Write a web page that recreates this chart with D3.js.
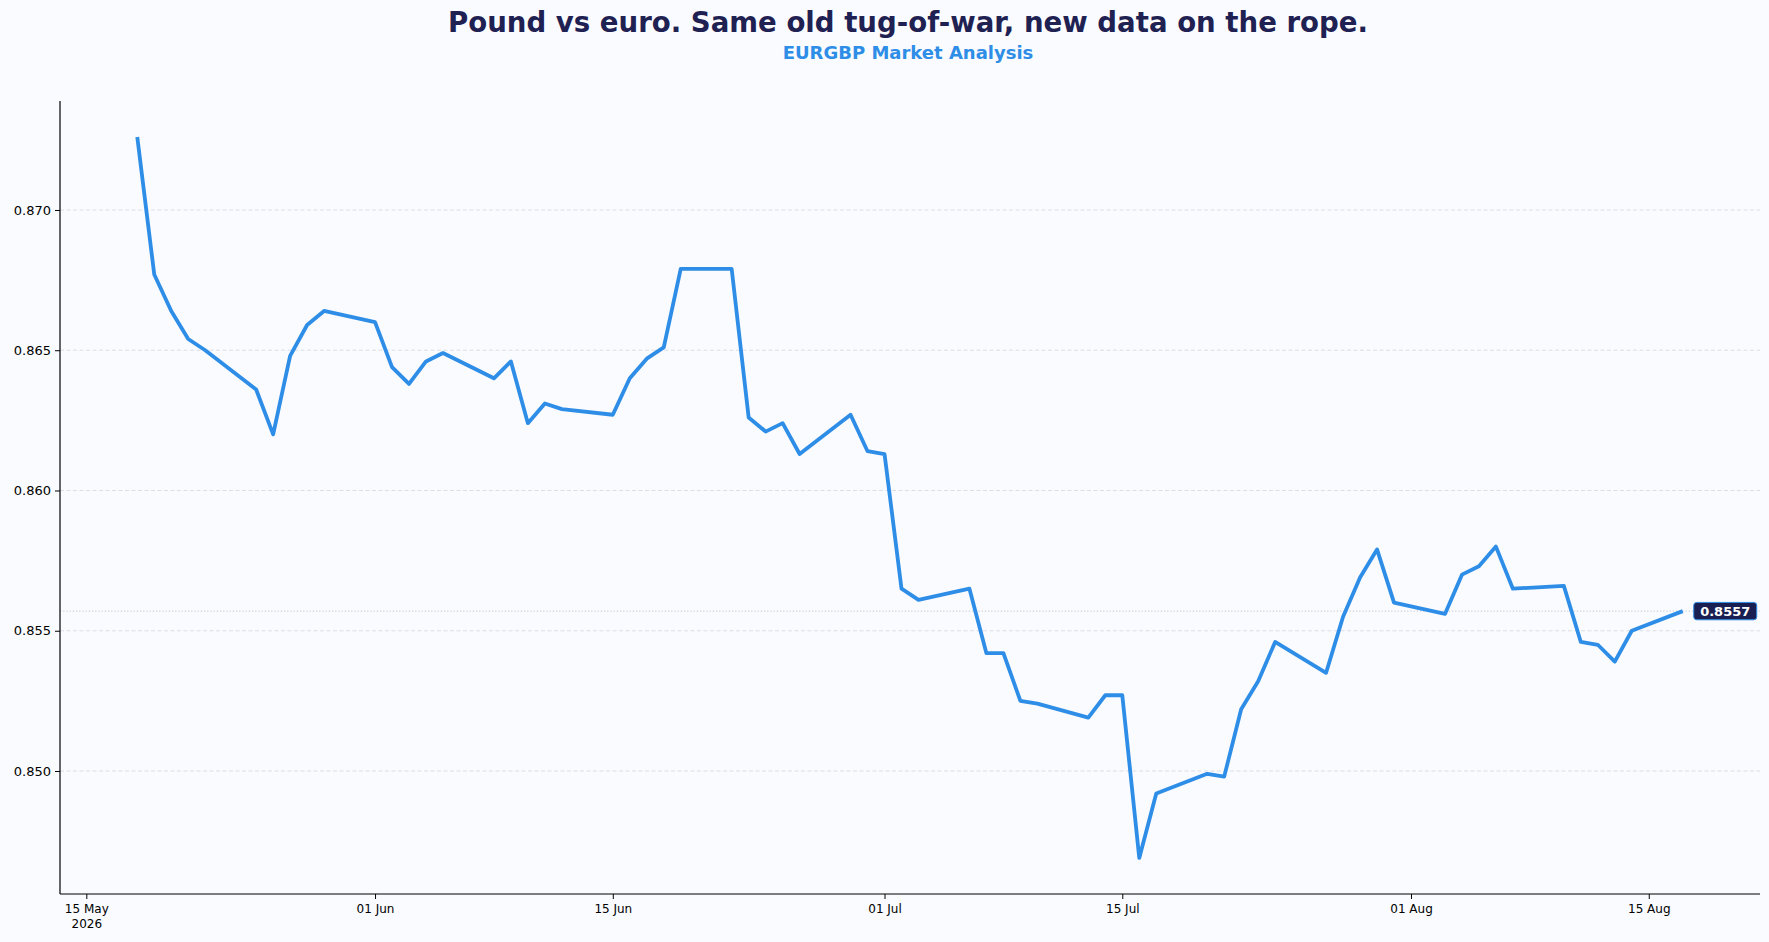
<!DOCTYPE html>
<html>
<head>
<meta charset="utf-8">
<script src="https://cdn.jsdelivr.net/npm/d3@7"></script>
<style>
  body { margin: 0; background: #f9fbfe; }
  svg { display: block; font-family: "DejaVu Sans", sans-serif; }
  .grid line { stroke: #d3d7de; stroke-width: 0.8; stroke-dasharray: 4,2.5; }
  .axis path, .axis line { stroke: #000; }
  .axis text { fill: #000; }
</style>
</head>
<body>
<div id="chart"></div>
<script>
// EURGBP daily closes (weekdays)
const dates = [
  '2026-05-18','2026-05-19','2026-05-20','2026-05-21','2026-05-22',
  '2026-05-25','2026-05-26','2026-05-27','2026-05-28','2026-05-29',
  '2026-06-01','2026-06-02','2026-06-03','2026-06-04','2026-06-05',
  '2026-06-08','2026-06-09','2026-06-10','2026-06-11','2026-06-12',
  '2026-06-15','2026-06-16','2026-06-17','2026-06-18','2026-06-19',
  '2026-06-22','2026-06-23','2026-06-24','2026-06-25','2026-06-26',
  '2026-06-29','2026-06-30','2026-07-01','2026-07-02','2026-07-03',
  '2026-07-06','2026-07-07','2026-07-08','2026-07-09','2026-07-10',
  '2026-07-13','2026-07-14','2026-07-15','2026-07-16','2026-07-17',
  '2026-07-20','2026-07-21','2026-07-22','2026-07-23','2026-07-24',
  '2026-07-27','2026-07-28','2026-07-29','2026-07-30','2026-07-31',
  '2026-08-03','2026-08-04','2026-08-05','2026-08-06','2026-08-07',
  '2026-08-10','2026-08-11','2026-08-12','2026-08-13','2026-08-14',
  '2026-08-17'
];
const closes = [
  0.8726, 0.8677, 0.8664, 0.8654, 0.8650,
  0.8636, 0.8620, 0.8648, 0.8659, 0.8664,
  0.8660, 0.8644, 0.8638, 0.8646, 0.8649,
  0.8640, 0.8646, 0.8624, 0.8631, 0.8629,
  0.8627, 0.8640, 0.8647, 0.8651, 0.8679,
  0.8679, 0.8626, 0.8621, 0.8624, 0.8613,
  0.8627, 0.8614, 0.8613, 0.8565, 0.8561,
  0.8565, 0.8542, 0.8542, 0.8525, 0.8524,
  0.8519, 0.8527, 0.8527, 0.8469, 0.8492,
  0.8499, 0.8498, 0.8522, 0.8532, 0.8546,
  0.8535, 0.8555, 0.8569, 0.8579, 0.8560,
  0.8556, 0.8570, 0.8573, 0.8580, 0.8565,
  0.8566, 0.8546, 0.8545, 0.8539, 0.8550,
  0.8557
];
const xTickDates = ['2026-05-15','2026-06-01','2026-06-15','2026-07-01','2026-07-15','2026-08-01','2026-08-15'];
const yTicks = [0.850, 0.855, 0.860, 0.865, 0.870];

const titleText = 'Pound vs euro. Same old tug-of-war, new data on the rope.';
const subtitleText = 'EURGBP Market Analysis';

const svgWidth = 1769;
const svgHeight = 942;
const margin = { top: 101, right: 9, bottom: 48, left: 60 };

const parse = d3.utcParse('%Y-%m-%d');
const data = dates.map((d, i) => ({ date: parse(d), value: closes[i] }));

const svg = d3.select('#chart')
  .append('svg')
  .attr('width', svgWidth)
  .attr('height', svgHeight);

svg.append('rect')
  .attr('width', svgWidth)
  .attr('height', svgHeight)
  .attr('fill', '#f9fbfe');

// matplotlib-like 5% padding on both axes
const xExt = d3.extent(data, d => d.date);
const xPad = (xExt[1] - xExt[0]) * 0.05;
const x = d3.scaleUtc()
  .domain([new Date(+xExt[0] - xPad), new Date(+xExt[1] + xPad)])
  .range([margin.left, svgWidth - margin.right]);

const yExt = d3.extent(data, d => d.value);
const yPad = (yExt[1] - yExt[0]) * 0.05;
const y = d3.scaleLinear()
  .domain([yExt[0] - yPad, yExt[1] + yPad])
  .range([svgHeight - margin.bottom, margin.top]);

// horizontal grid
svg.append('g')
  .attr('class', 'grid')
  .selectAll('line')
  .data(yTicks)
  .join('line')
  .attr('x1', margin.left)
  .attr('x2', svgWidth - margin.right)
  .attr('y1', d => y(d))
  .attr('y2', d => y(d));

// last value reference line
const last = data[data.length - 1];
svg.append('line')
  .attr('x1', margin.left)
  .attr('x2', svgWidth - margin.right)
  .attr('y1', y(last.value))
  .attr('y2', y(last.value))
  .attr('stroke', '#b9bec7')
  .attr('stroke-width', 0.9)
  .attr('stroke-dasharray', '1.2,2');

// price line
const line = d3.line()
  .x(d => x(d.date))
  .y(d => y(d.value));

svg.append('path')
  .datum(data)
  .attr('fill', 'none')
  .attr('stroke', '#2e8de6')
  .attr('stroke-width', 3.8)
  .attr('stroke-linejoin', 'round')
  .attr('d', line);

// axes
const fmt = d3.utcFormat('%d %b');
const xAxis = d3.axisBottom(x)
  .tickValues(xTickDates.map(parse))
  .tickFormat(fmt)
  .tickSizeOuter(0)
  .tickSize(5)
  .tickPadding(5);

const gx = svg.append('g')
  .attr('class', 'axis')
  .attr('transform', `translate(0, ${svgHeight - margin.bottom})`)
  .call(xAxis)
  .attr('font-family', '"DejaVu Sans", sans-serif')
  .attr('font-size', 12);
gx.select('.domain').attr('stroke-width', 1.2).attr('d', `M${margin.left},0H${svgWidth - margin.right}`);
// year under the first tick
gx.selectAll('.tick').filter((d, i) => i === 0).select('text')
  .append('tspan')
  .attr('x', 0)
  .attr('dy', '1.25em')
  .text(d3.utcFormat('%Y'));

const yAxis = d3.axisLeft(y)
  .tickValues(yTicks)
  .tickFormat(d3.format('.3f'))
  .tickSizeOuter(0)
  .tickSize(5)
  .tickPadding(4);

const gy = svg.append('g')
  .attr('class', 'axis')
  .attr('transform', `translate(${margin.left}, 0)`)
  .call(yAxis)
  .attr('font-family', '"DejaVu Sans", sans-serif')
  .attr('font-size', 13);
gy.select('.domain').attr('stroke-width', 1.2).attr('d', `M0,${margin.top}V${svgHeight - margin.bottom}`);

// last value badge
const badge = svg.append('g')
  .attr('transform', `translate(${x(last.date) + 11}, ${y(last.value)})`);
badge.append('rect')
  .attr('x', 0)
  .attr('y', -8.7)
  .attr('width', 63)
  .attr('height', 17.4)
  .attr('rx', 3)
  .attr('fill', '#1a1f52')
  .attr('stroke', '#2e8de6')
  .attr('stroke-width', 1);
badge.append('text')
  .attr('x', 31.5)
  .attr('y', 0)
  .attr('dy', '0.36em')
  .attr('text-anchor', 'middle')
  .attr('font-size', 13)
  .attr('font-weight', 'bold')
  .attr('fill', '#fff')
  .text(d3.format('.4f')(last.value));

// titles
svg.append('text')
  .attr('x', 908)
  .attr('y', 32)
  .attr('text-anchor', 'middle')
  .attr('font-size', 27.6)
  .attr('font-weight', 'bold')
  .attr('fill', '#1f2152')
  .text(titleText);

svg.append('text')
  .attr('x', 908)
  .attr('y', 58.5)
  .attr('text-anchor', 'middle')
  .attr('font-size', 18)
  .attr('font-weight', 'bold')
  .attr('fill', '#2e8de6')
  .text(subtitleText);
</script>
</body>
</html>
